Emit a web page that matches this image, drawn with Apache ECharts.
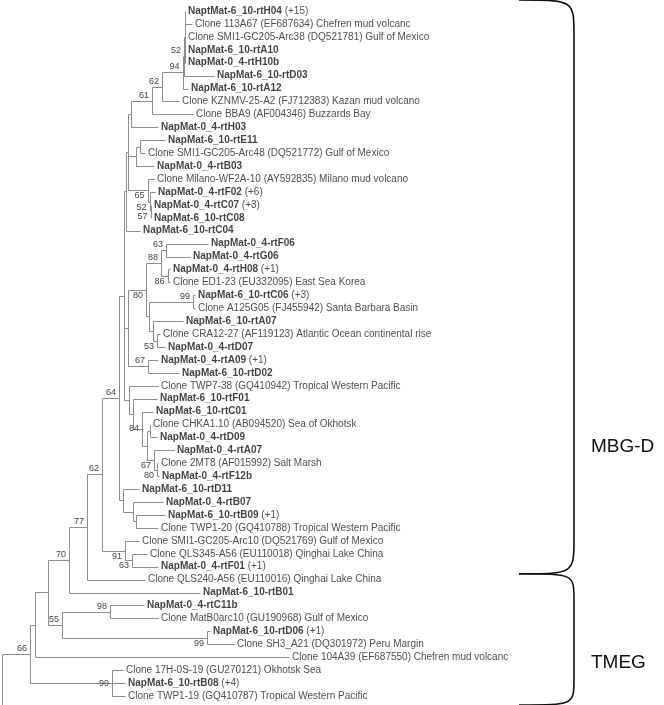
<!DOCTYPE html>
<html><head><meta charset="utf-8">
<script src="https://cdn.jsdelivr.net/npm/echarts@6/dist/echarts.min.js"></script>
<style>html,body{margin:0;padding:0;background:#fff}#c{width:664px;height:705px}</style>
</head><body><div id="c"></div>
<script>
// ---------- DATA ----------
const leafNames = [
 'NaptMat-6_10-rtH04 (+15)',
 'Clone 113A67 (EF687634) Chefren mud volcanc',
 'Clone SMI1-GC205-Arc38 (DQ521781) Gulf of Mexico',
 'NapMat-6_10-rtA10',
 'NapMat-0_4-rtH10b',
 'NapMat-6_10-rtD03',
 'NapMat-6_10-rtA12',
 'Clone KZNMV-25-A2 (FJ712383) Kazan mud volcano',
 'Clone BBA9 (AF004346) Buzzards Bay',
 'NapMat-0_4-rtH03',
 'NapMat-6_10-rtE11',
 'Clone SMI1-GC205-Arc48 (DQ521772) Gulf of Mexico',
 'NapMat-0_4-rtB03',
 'Clone Milano-WF2A-10 (AY592835) Milano mud volcano',
 'NapMat-0_4-rtF02 (+6)',
 'NapMat-0_4-rtC07 (+3)',
 'NapMat-6_10-rtC08',
 'NapMat-6_10-rtC04',
 'NapMat-0_4-rtF06',
 'NapMat-0_4-rtG06',
 'NapMat-0_4-rtH08 (+1)',
 'Clone ED1-23 (EU332095) East Sea Korea',
 'NapMat-6_10-rtC06 (+3)',
 'Clone A125G05 (FJ455942) Santa Barbara Basin',
 'NapMat-6_10-rtA07',
 'Clone CRA12-27 (AF119123) Atlantic Ocean continental rise',
 'NapMat-0_4-rtD07',
 'NapMat-0_4-rtA09 (+1)',
 'NapMat-6_10-rtD02',
 'Clone TWP7-38 (GQ410942) Tropical Western Pacific',
 'NapMat-6_10-rtF01',
 'NapMat-6_10-rtC01',
 'Clone CHKA1.10 (AB094520) Sea of Okhotsk',
 'NapMat-0_4-rtD09',
 'NapMat-0_4-rtA07',
 'Clone 2MT8 (AF015992) Salt Marsh',
 'NapMat-0_4-rtF12b',
 'NapMat-6_10-rtD11',
 'NapMat-0_4-rtB07',
 'NapMat-6_10-rtB09 (+1)',
 'Clone TWP1-20 (GQ410788) Tropical Western Pacific',
 'Clone SMI1-GC205-Arc10 (DQ521769) Gulf of Mexico',
 'Clone QLS345-A56 (EU110018) Qinghai Lake China',
 'NapMat-0_4-rtF01 (+1)',
 'Clone QLS240-A56 (EU110016) Qinghai Lake China',
 'NapMat-6_10-rtB01',
 'NapMat-0_4-rtC11b',
 'Clone MatB0arc10 (GU190968) Gulf of Mexico',
 'NapMat-6_10-rtD06 (+1)',
 'Clone SH3_A21 (DQ301972) Peru Margin',
 'Clone 104A39 (EF687550) Chefren mud volcanc',
 'Clone 17H-0S-19 (GU270121) Okhotsk Sea',
 'NapMat-6_10-rtB08 (+4)',
 'Clone TWP1-19 (GQ410787) Tropical Western Pacific'
];
// cumulative branch depth of each leaf tip (same units as node depths)
const leafTipX = [
 185,192,185,185,185,214,188,179,193,158,
 165,145,154,154,155,151,151,140,208,190,
 170,170,195,195,183,160,165,158,179,158,
 157,153,150,157,174,158,159,139,163,165,
 158,139,147,158,145,200,144,158,210,234,
 289,123,125,125
];
// internal nodes: id, depth, children (leaf index or node id), bootstrap
const nodeIds = ['P1','nP','n94','n62a','n61','nR1','nE','nEB','n57','n52b','n65','A1','M2',
 'n63','n86','n88','n99a','n53','nA07','nX','n80','n67a','n128',
 'nCD','n80b','n67b','n147','n84','n133','n129','nTop',
 'nB2','nB1','nD11','n64','n63b','n91','n62','n77','n70',
 'n98','n99b','n55','nA','nB','n99c','n66'];
const nodeX = [184.5,184,182.5,162,152,131,140,136,150.5,149.5,147.5,128,126,
 166,167.5,161,193,157,153,149,146,148,128,
 150,157,154,147,142,133,129,124,
 136,133,123,119,132,125,102,87,69,
 110,207,62,48,35,112,30];
const nodeKids = [
 [0,1,2,3,4],['P1',5],['nP',6],['n94',7],['n62a',8],['n61',9],[10,11],['nE',12],[15,16],[14,'n57'],[13,'n52b'],['nR1','nEB','n65'],['A1',17],
 [18,19],[20,21],['n63','n86'],[22,23],[25,26],[24,'n53'],['n99a','nA07'],['n88','nX'],[27,28],['n80','n67a'],
 [32,33],[35,36],[34,'n80b'],['nCD','n67b'],[31,'n147'],[30,'n84'],[29,'n133'],['M2','n128','n129'],
 [39,40],[38,'nB2'],[37,'nB1'],['nTop','nD11'],[42,43],[41,'n63b'],['n64','n91'],['n62',44],['n77',45],
 [46,47],[48,49],['n98','n99b'],['n70','n55'],['nA',50],[51,52,53],['nB','n99c']
];
const nodeSupport = ['','52','94','62','61','','','','57','52','65','','',
 '63','86','88','99','53','','','80','67','',
 '','80','67','','84','','','',
 '','','','64','63','91','62','77','70',
 '98','99','55','','','99','66'];
const rootX = 2;
const rootChild = 'n66';
// clade brackets (leaf-index units)
const cladeNames = ['MBG-D','TMEG'];
const cladeFrom = [-0.85, 43.55];
const cladeTo = [43.55, 53.7];
const cladeLabelAt = [33.7, 50.4];

// ---------- STYLE ----------
const supportSide = ['','a','a','a','a','','','','b','b','b','','',
 'a','b','a','a','b','','','b','a','',
 '','b','b','','m','','','',
 '','','','a','b','b','a','a','a',
 'a','b','a','','','m','a'];
const axisMaxIdx = leafNames.length - 1 + 0.7;
const FONT = 'Liberation Sans, Arial, sans-serif';

// ---------- BUILD ----------
const nodes = {};
nodeIds.forEach((id,i)=>{ nodes[id] = {x:nodeX[i], kids:nodeKids[i], sup:nodeSupport[i], side:supportSide[i]}; });
function yOf(k){ if (typeof k === 'number') return k; const n = nodes[k];
  if (n.y === undefined){ const ys = n.kids.map(yOf); n.y = (ys[0] + ys[ys.length-1]) / 2; } return n.y; }
function xOf(k){ return typeof k === 'number' ? leafTipX[k] : nodes[k].x; }
const segs = [];
nodeIds.forEach(id=>{ const n = nodes[id]; const ys = n.kids.map(yOf);
  segs.push([n.x, ys[0], n.x, ys[ys.length-1]]);
  n.kids.forEach(k=>segs.push([n.x, yOf(k), xOf(k), yOf(k)])); });
segs.push([rootX, yOf(rootChild), nodes[rootChild].x, yOf(rootChild)]);
segs.push([rootX, yOf(rootChild), rootX, axisMaxIdx]);

const supData = [], supMeta = [];
nodeIds.forEach(id=>{ const n = nodes[id]; if (n.sup){ supData.push([n.x, yOf(id)]); supMeta.push([n.sup, n.side]); } });

const leafData = leafTipX.map((x,i)=>[x, i]);
function fmtLeaf(p){
  const nm = leafNames[p.dataIndex];
  if (nm.startsWith('Nap')) {
    const k = nm.indexOf(' (');
    return k < 0 ? '{b|' + nm + '}' : '{b|' + nm.slice(0,k) + '}{n|' + nm.slice(k) + '}';
  }
  return '{n|' + nm + '}';
}
const px = v => Math.round(v) + 0.5;

const chart = echarts.init(document.getElementById('c'));
chart.setOption({
  animation:false,
  backgroundColor:'#ffffff',
  grid:{left:0,right:0,top:11,bottom:0},
  xAxis:{type:'value',min:0,max:664,show:false},
  yAxis:{type:'value',min:0,max:axisMaxIdx,inverse:true,show:false},
  series:[
    {type:'custom', data:segs, silent:true, clip:false,
     renderItem:(params, api)=>{
       const a = api.coord([api.value(0), api.value(1)]);
       const b = api.coord([api.value(2), api.value(3)]);
       return {type:'line', shape:{x1:px(a[0]), y1:px(a[1]), x2:px(b[0]), y2:px(b[1])},
         style:{stroke:'#8e8e8e', lineWidth:1}};
     }},
    {type:'scatter', data:leafData, symbolSize:0, silent:true,
     label:{show:true, position:'right', distance:3, formatter:fmtLeaf,
       rich:{b:{fontFamily:FONT, fontSize:10, fontWeight:'bold', color:'#111'},
             n:{fontFamily:FONT, fontSize:10, color:'#222'}}}},
    {type:'custom', data:supData, silent:true, clip:false,
     renderItem:(params, api)=>{
       const p = api.coord([api.value(0), api.value(1)]);
       const m = supMeta[params.dataIndex];
       const va = m[1]==='a' ? 'bottom' : (m[1]==='b' ? 'top' : 'middle');
       const dy = m[1]==='a' ? -1 : (m[1]==='b' ? 1 : 0);
       return {type:'text', x:p[0]-3, y:p[1]+dy,
         style:{text:m[0], align:'right', verticalAlign:va, fontFamily:FONT, fontSize:9, fill:'#444'}};
     }},
    {type:'custom', data:cladeNames.map((n,i)=>[i]), silent:true, clip:false,
     renderItem:(params, api)=>{
       const i = params.dataIndex;
       const a = api.coord([519, cladeFrom[i]]);
       const b = api.coord([574, cladeTo[i]]);
       const c = api.coord([591, cladeLabelAt[i]]);
       const xl = a[0], xr = b[0], y0 = a[1], y1 = b[1];
       const r = Math.min(36, (y1 - y0) / 5);
       const d = 'M' + xl + ' ' + y0 + ' C' + xr + ' ' + y0 + ' ' + xr + ' ' + y0 + ' ' + xr + ' ' + (y0 + r) +
         ' L' + xr + ' ' + (y1 - r) + ' C' + xr + ' ' + y1 + ' ' + xr + ' ' + y1 + ' ' + xl + ' ' + y1;
       return {type:'group', children:[
         {type:'path', shape:{pathData:d}, style:{fill:'none', stroke:'#111', lineWidth:1.6}},
         {type:'text', x:c[0], y:c[1], style:{text:cladeNames[i], fontFamily:FONT, fontSize:19, fill:'#111', verticalAlign:'middle'}}
       ]};
     }}
  ]
});
</script></body></html>
